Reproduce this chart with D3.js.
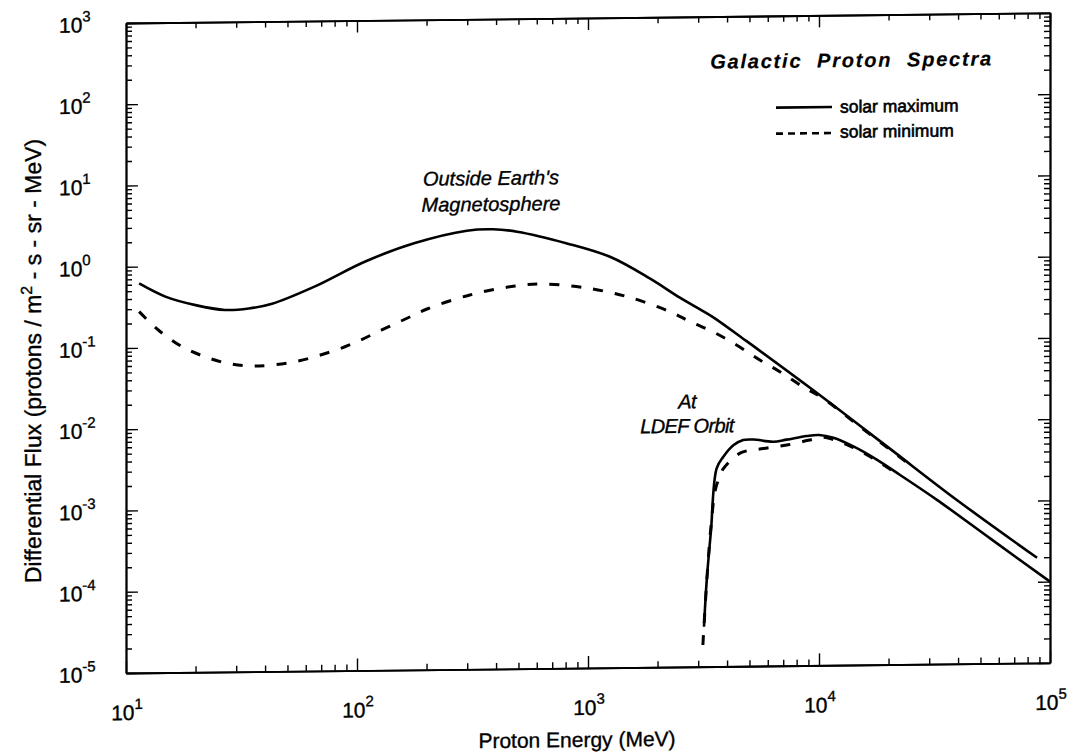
<!DOCTYPE html>
<html>
<head>
<meta charset="utf-8">
<script src="https://cdn.jsdelivr.net/npm/d3@7"></script>
<style>
  html, body { margin: 0; padding: 0; background: #fff; }
  svg { display: block; }
  text { font-family: "Liberation Sans", Arial, Helvetica, sans-serif; fill: #000; stroke: #000; stroke-width: 0.35px; }
</style>
</head>
<body>
<svg id="chart" width="1078" height="756"></svg>
<script>
// Galactic proton differential flux (protons / m^2-s-sr-MeV) vs. energy (MeV)

// Outside Earth's magnetosphere, solar maximum
const energyOutsideMax = [11.4, 14.8, 20, 26.8, 34, 42.9, 65.8, 108, 178, 299, 388, 493, 811, 1245, 1850, 2500, 3055, 3475, 4860, 9420, 20000, 39500, 87900];
const fluxOutsideMax   = [0.62, 0.424, 0.33, 0.285, 0.295, 0.335, 0.54, 1.07, 1.79, 2.5, 2.58, 2.39, 1.69, 1.14, 0.61, 0.35, 0.25, 0.2, 0.100, 0.0245, 0.00468, 1.04e-3, 1.97e-4];

// Outside Earth's magnetosphere, solar minimum
const energyOutsideMin = [11.4, 13.8, 17.5, 22, 28, 36.1, 53.9, 88.7, 128, 173, 201, 308, 483, 639, 942, 1475, 2266, 2770, 3475, 4395, 5545, 6770, 8550, 10440, 15000, 25000];
const fluxOutsideMin   = [0.279, 0.165, 0.102, 0.076, 0.062, 0.0577, 0.0644, 0.0968, 0.154, 0.227, 0.275, 0.404, 0.513, 0.538, 0.485, 0.367, 0.236, 0.177, 0.132, 0.090, 0.0583, 0.0417, 0.0268, 0.0192, 0.0086, 0.0028];

// At LDEF orbit, solar maximum
const energyLdefMax = [3178, 3266, 3404, 3605, 3855, 4257, 4697, 5200, 6340, 7245, 8850, 10000, 11540, 14090, 17780, 22440, 32400, 56000, 100000];
const fluxLdefMax   = [3.1e-5, 1.16e-4, 4.57e-4, 2.75e-3, 3.81e-3, 5.25e-3, 6.08e-3, 6.14e-3, 5.74e-3, 6.07e-3, 6.68e-3, 6.85e-3, 6.3e-3, 4.9e-3, 3.35e-3, 2.15e-3, 1.05e-3, 3.34e-4, 1.0e-4];

// At LDEF orbit, solar minimum
const energyLdefMin = [3143, 3250, 3400, 3560, 3720, 3855, 4550, 5740, 7245, 8990, 10450, 11540, 14090, 17780, 22440];
const fluxLdefMin   = [1.85e-5, 9e-5, 5e-4, 1.5e-3, 2.2e-3, 2.72e-3, 4.19e-3, 4.74e-3, 5.2e-3, 5.91e-3, 6.4e-3, 6.0e-3, 4.75e-3, 3.25e-3, 2.1e-3];

const xTickExponents = [1, 2, 3, 4, 5];
const yTickExponents = [3, 2, 1, 0, -1, -2, -3, -4, -5];
const legendLabels = ["solar maximum", "solar minimum"];
const titleText = "Galactic  Proton  Spectra";
const outsideLabel = ["Outside Earth's", "Magnetosphere"];
const ldefLabel = ["At", "LDEF Orbit"];
const xTitle = "Proton Energy (MeV)";

const svg = d3.select("#chart");
const plotLeft = 126, plotRight = 1050, plotTop = 23, plotBottom = 673;

const x = d3.scaleLog().domain([10, 1e5]).range([plotLeft, plotRight]);
const y = d3.scaleLog().domain([1e-5, 1e3]).range([plotBottom, plotTop]);

// the whole figure sits on a slightly tilted page
const g = svg.append("g").attr("transform", "translate(0,1.386) skewY(-0.63)");

// ---- axes with inward ticks ----
function minorValues(lo, hi) {
  const out = [];
  for (let e = lo; e < hi; e++) for (let m = 2; m <= 9; m++) out.push(m * Math.pow(10, e));
  return out;
}
const xMajor = xTickExponents.map(e => Math.pow(10, e));
const yMajor = yTickExponents.map(e => Math.pow(10, e));
const xMinor = minorValues(1, 5);
const yMinor = minorValues(-5, 3);

function styleAxis(sel) {
  sel.selectAll("path.domain").attr("stroke", "#000").attr("stroke-width", 1.8);
  sel.selectAll(".tick line").attr("stroke", "#000").attr("stroke-width", 1.4);
  sel.selectAll(".tick text").remove();
}

const axisSpecs = [
  { gen: d3.axisBottom, scale: x, tr: `translate(0,${plotBottom})`, major: xMajor, minor: xMinor },
  { gen: d3.axisTop,    scale: x, tr: `translate(0,${plotTop})`,    major: xMajor, minor: xMinor },
  { gen: d3.axisLeft,   scale: y, tr: `translate(${plotLeft},0)`,   major: yMajor, minor: yMinor },
  { gen: d3.axisRight,  scale: y, tr: `translate(${plotRight},0)`,  major: yMajor, minor: yMinor }
];
axisSpecs.forEach(s => {
  g.append("g").attr("transform", s.tr)
    .call(s.gen(s.scale).tickValues(s.minor).tickSize(-6).tickSizeOuter(0).tickFormat(""))
    .call(styleAxis);
  g.append("g").attr("transform", s.tr)
    .call(s.gen(s.scale).tickValues(s.major).tickSize(-12).tickSizeOuter(0).tickFormat(""))
    .call(styleAxis);
});

// ---- tick labels: powers of ten ----
const yLab = g.append("g").selectAll("text").data(yTickExponents).join("text")
  .attr("x", 59).attr("y", d => y(Math.pow(10, d)) + 9)
  .attr("font-size", 21);
yLab.append("tspan").text("10");
yLab.append("tspan").attr("dy", -11).attr("font-size", 15).text(d => String(d));

const xLab = g.append("g").selectAll("text").data(xTickExponents).join("text")
  .attr("x", d => x(Math.pow(10, d)) + 1).attr("y", 720)
  .attr("text-anchor", "middle").attr("font-size", 21);
xLab.append("tspan").text("10");
xLab.append("tspan").attr("dy", -11).attr("font-size", 15).text(d => String(d));

// ---- axis titles ----
g.append("text").attr("x", 577).attr("y", 752).attr("text-anchor", "middle")
  .attr("font-size", 21).text(xTitle);

const yt = g.append("text").attr("transform", "translate(41,360) rotate(-90)")
  .attr("text-anchor", "middle").attr("font-size", 23);
yt.append("tspan").text("Differential Flux (protons / m");
yt.append("tspan").attr("dy", -9).attr("font-size", 16).text("2");
yt.append("tspan").attr("dy", 9).text(" - s - sr - MeV)");

// ---- curves ----
const line = d3.line()
  .x(d => x(d[0])).y(d => y(d[1]))
  .curve(d3.curveCatmullRom.alpha(0.5));

const series = [
  { e: energyOutsideMax, f: fluxOutsideMax, dash: null },
  { e: energyOutsideMin, f: fluxOutsideMin, dash: "10,12" },
  { e: energyLdefMax,    f: fluxLdefMax,    dash: null },
  { e: energyLdefMin,    f: fluxLdefMin,    dash: "10,12" }
];
g.append("g").selectAll("path").data(series).join("path")
  .attr("d", s => line(d3.zip(s.e, s.f)))
  .attr("fill", "none").attr("stroke", "#000")
  .attr("stroke-width", s => s.dash ? 3 : 2.6)
  .attr("stroke-dasharray", s => s.dash)
  .attr("stroke-linejoin", "round");

// ---- annotations ----
const ann = g.append("g").attr("font-style", "italic").attr("font-size", 20).attr("text-anchor", "middle");
ann.selectAll("text.out").data(outsideLabel).join("text").attr("class", "out")
  .attr("x", 491).attr("y", (d, i) => 189 + i * 26).text(d => d);
ann.selectAll("text.ldef").data(ldefLabel).join("text").attr("class", "ldef")
  .attr("x", 687).attr("y", (d, i) => 414.5 + i * 24.5)
  .attr("letter-spacing", -0.6).text(d => d);

// ---- title and legend ----
g.append("text").attr("x", 993).attr("y", 75).attr("text-anchor", "end")
  .attr("font-size", 20).attr("font-weight", "bold").attr("font-style", "italic")
  .attr("letter-spacing", 1.8).style("white-space", "pre").style("stroke-width", "0.2px")
  .text(titleText);

const leg = g.append("g");
leg.selectAll("line").data(legendLabels).join("line")
  .attr("x1", 776).attr("x2", 832)
  .attr("y1", (d, i) => 114.8 + i * 26).attr("y2", (d, i) => 114.8 + i * 26)
  .attr("stroke", "#000").attr("stroke-width", 2.6)
  .attr("stroke-dasharray", (d, i) => i ? "7,5" : null);
leg.selectAll("text").data(legendLabels).join("text")
  .attr("x", 840).attr("y", (d, i) => 120.5 + i * 25)
  .attr("font-size", 17.5).style("stroke-width", "0.6px").text(d => d);
</script>
</body>
</html>
